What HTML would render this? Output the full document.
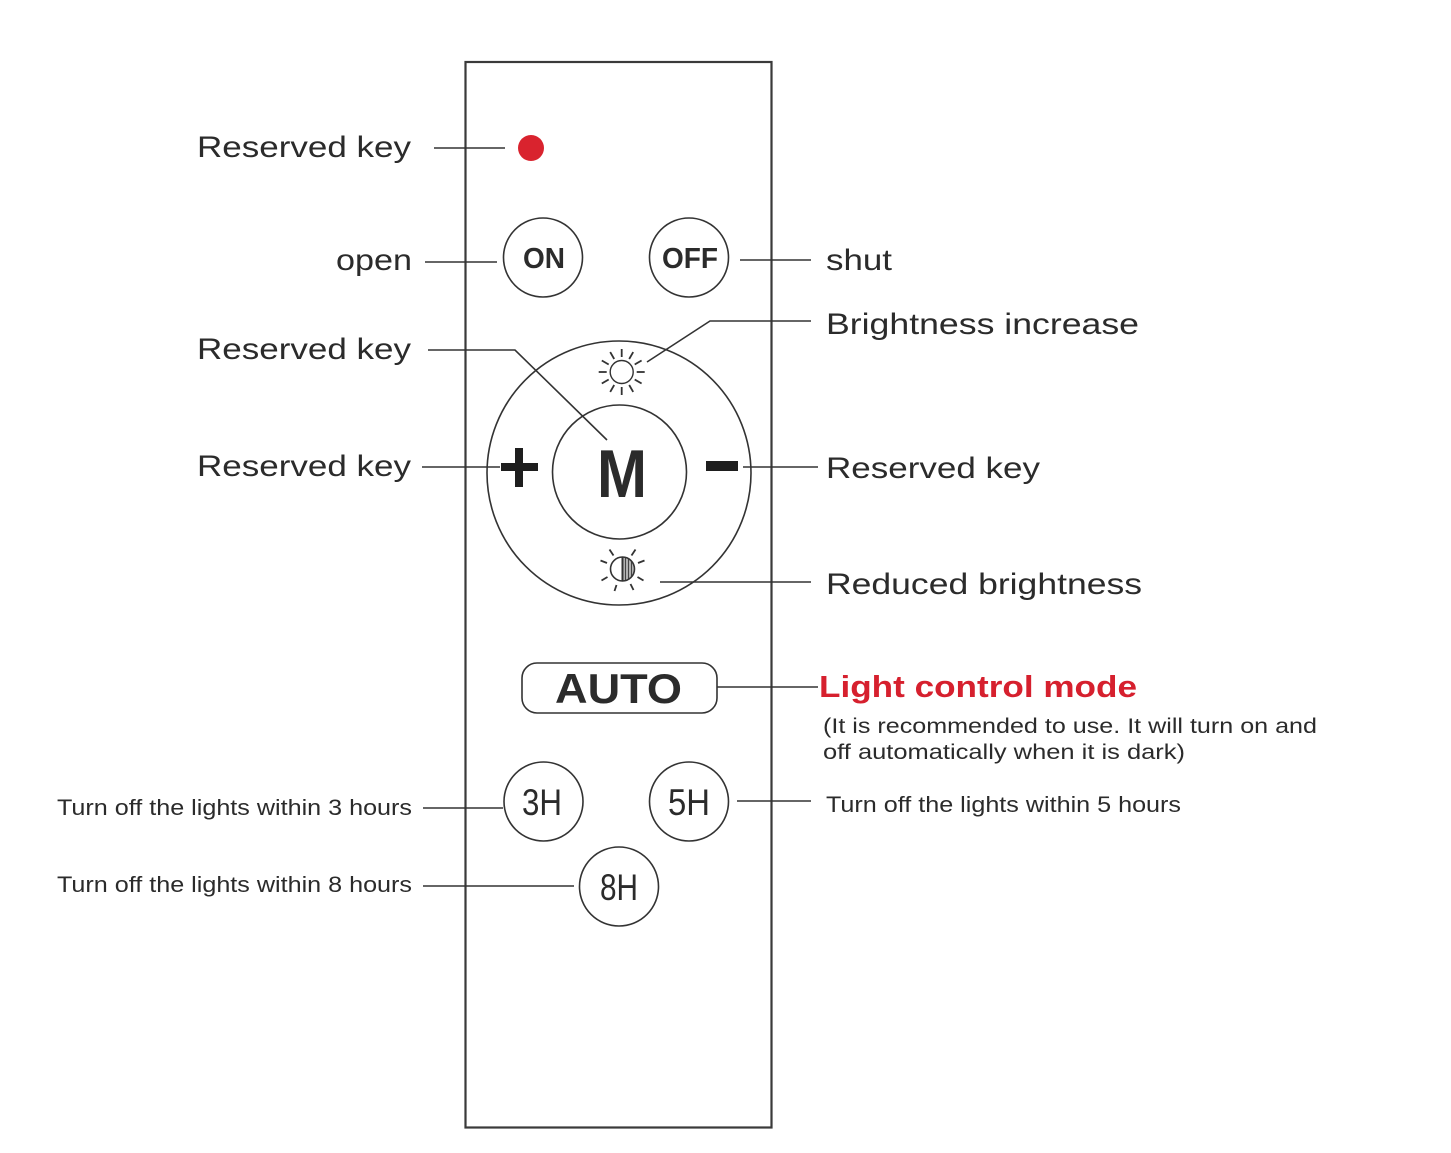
<!DOCTYPE html>
<html>
<head>
<meta charset="utf-8">
<style>
html,body{margin:0;padding:0;background:#fff;}
svg{display:block;}
text{font-family:"Liberation Sans",Arial,sans-serif;fill:#2b2b2b;}
</style>
</head>
<body>
<svg width="1451" height="1153" viewBox="0 0 1451 1153" xmlns="http://www.w3.org/2000/svg">
<rect x="0" y="0" width="1451" height="1153" fill="#fff"/>
<!-- remote body -->
<rect x="465.5" y="62" width="306" height="1065.5" fill="none" stroke="#3a3a3a" stroke-width="2.2"/>

<g stroke="#333" stroke-width="1.6" fill="none">
  <!-- connectors -->
  <line x1="434" y1="148" x2="505" y2="148"/>
  <line x1="425" y1="262" x2="497" y2="262"/>
  <line x1="740" y1="260" x2="811" y2="260"/>
  <polyline points="811,321 710,321 647,362"/>
  <polyline points="428,350 515,350 607,440"/>
  <line x1="422" y1="467" x2="500" y2="467"/>
  <line x1="743" y1="467" x2="818" y2="467"/>
  <line x1="660" y1="582" x2="811" y2="582"/>
  <line x1="717" y1="687" x2="818" y2="687"/>
  <line x1="423" y1="808" x2="503" y2="808"/>
  <line x1="737" y1="801" x2="811" y2="801"/>
  <line x1="423" y1="886" x2="574" y2="886"/>

  <!-- buttons -->
  <circle cx="543" cy="257.5" r="39.5"/>
  <circle cx="689" cy="257.5" r="39.5"/>
  <circle cx="619" cy="473" r="132"/>
  <circle cx="619.5" cy="472" r="67"/>
  <rect x="522" y="663" width="195" height="50" rx="15" ry="15"/>
  <circle cx="543.5" cy="801.5" r="39.5"/>
  <circle cx="689" cy="801.5" r="39.5"/>
  <circle cx="619" cy="886.5" r="39.5"/>

  <!-- brightness increase sun -->
  <circle cx="621.7" cy="372" r="11.5" stroke-width="1.4"/>
  <g stroke-width="1.8" transform="translate(621.7 372)">
    <line x1="0" y1="-15" x2="0" y2="-23"/>
    <line x1="0" y1="15" x2="0" y2="23"/>
    <line x1="15" y1="0" x2="23" y2="0"/>
    <line x1="-15" y1="0" x2="-23" y2="0"/>
    <line x1="7.5" y1="-13" x2="11.5" y2="-19.9"/>
    <line x1="-7.5" y1="-13" x2="-11.5" y2="-19.9"/>
    <line x1="7.5" y1="13" x2="11.5" y2="19.9"/>
    <line x1="-7.5" y1="13" x2="-11.5" y2="19.9"/>
    <line x1="13" y1="-7.5" x2="19.9" y2="-11.5"/>
    <line x1="-13" y1="-7.5" x2="-19.9" y2="-11.5"/>
    <line x1="13" y1="7.5" x2="19.9" y2="11.5"/>
    <line x1="-13" y1="7.5" x2="-19.9" y2="11.5"/>
  </g>

  <!-- reduced brightness sun -->
  <g transform="translate(622.5 569)">
    <path d="M0,-12 A12,12 0 0 1 0,12 Z" fill="#bdbdbd" stroke="none"/>
    <g stroke="#444" stroke-width="1.2">
      <line x1="3" y1="-11.6" x2="3" y2="11.6"/>
      <line x1="6" y1="-10.4" x2="6" y2="10.4"/>
      <line x1="9" y1="-8" x2="9" y2="8"/>
    </g>
    <line x1="0" y1="-12" x2="0" y2="12" stroke-width="2"/>
    <circle cx="0" cy="0" r="12" stroke-width="1.6"/>
    <g stroke-width="1.8">
      <line x1="-9" y1="-13.5" x2="-13" y2="-19.5"/>
      <line x1="9" y1="-13.5" x2="13" y2="-19.5"/>
      <line x1="-15.5" y1="-6" x2="-22" y2="-8.5"/>
      <line x1="15.5" y1="-6" x2="22" y2="-8.5"/>
      <line x1="-15" y1="8" x2="-21" y2="11.5"/>
      <line x1="15" y1="8" x2="21" y2="11.5"/>
      <line x1="-6" y1="16" x2="-8" y2="22"/>
      <line x1="8" y1="15" x2="11" y2="21"/>
    </g>
  </g>
</g>

<!-- red reserved dot -->
<circle cx="531" cy="148" r="13" fill="#d9232e"/>

<!-- plus / minus -->
<rect x="501" y="463" width="37" height="8" fill="#1e1e1e"/>
<rect x="515" y="448" width="8" height="39" fill="#1e1e1e"/>
<rect x="706" y="461" width="32" height="10" fill="#1e1e1e"/>

<!-- button labels -->
<text x="523" y="268" font-size="29" font-weight="bold" textLength="42" lengthAdjust="spacingAndGlyphs" fill="#222">ON</text>
<text x="662" y="268" font-size="29" font-weight="bold" textLength="56" lengthAdjust="spacingAndGlyphs" fill="#222">OFF</text>
<text x="597" y="497" font-size="68" font-weight="bold" textLength="50" lengthAdjust="spacingAndGlyphs" fill="#1a1a1a">M</text>
<text x="555" y="703" font-size="42" font-weight="bold" textLength="127" lengthAdjust="spacingAndGlyphs" fill="#1e1e1e">AUTO</text>
<text x="522" y="815" font-size="37" textLength="40" lengthAdjust="spacingAndGlyphs" fill="#333">3H</text>
<text x="668" y="815" font-size="37" textLength="42" lengthAdjust="spacingAndGlyphs" fill="#333">5H</text>
<text x="600" y="900" font-size="37" textLength="38" lengthAdjust="spacingAndGlyphs" fill="#333">8H</text>

<!-- left labels -->
<text x="197" y="157" font-size="30" textLength="214" lengthAdjust="spacingAndGlyphs">Reserved key</text>
<text x="336" y="270" font-size="30" textLength="76" lengthAdjust="spacingAndGlyphs">open</text>
<text x="197" y="359" font-size="30" textLength="214" lengthAdjust="spacingAndGlyphs">Reserved key</text>
<text x="197" y="476" font-size="30" textLength="214" lengthAdjust="spacingAndGlyphs">Reserved key</text>
<text x="57" y="815" font-size="22" textLength="355" lengthAdjust="spacingAndGlyphs">Turn off the lights within 3 hours</text>
<text x="57" y="892" font-size="22" textLength="355" lengthAdjust="spacingAndGlyphs">Turn off the lights within 8 hours</text>

<!-- right labels -->
<text x="826" y="270" font-size="30" textLength="66" lengthAdjust="spacingAndGlyphs">shut</text>
<text x="826" y="334" font-size="30" textLength="313" lengthAdjust="spacingAndGlyphs">Brightness increase</text>
<text x="826" y="478" font-size="30" textLength="214" lengthAdjust="spacingAndGlyphs">Reserved key</text>
<text x="826" y="594" font-size="30" textLength="316" lengthAdjust="spacingAndGlyphs">Reduced brightness</text>
<text x="819" y="697" font-size="31" font-weight="bold" textLength="318" lengthAdjust="spacingAndGlyphs" style="fill:#d6202e">Light control mode</text>
<text x="823" y="733" font-size="21" textLength="494" lengthAdjust="spacingAndGlyphs">(It is recommended to use. It will turn on and</text>
<text x="823" y="759" font-size="21" textLength="362" lengthAdjust="spacingAndGlyphs">off automatically when it is dark)</text>
<text x="826" y="812" font-size="22" textLength="355" lengthAdjust="spacingAndGlyphs">Turn off the lights within 5 hours</text>
</svg>
</body>
</html>
